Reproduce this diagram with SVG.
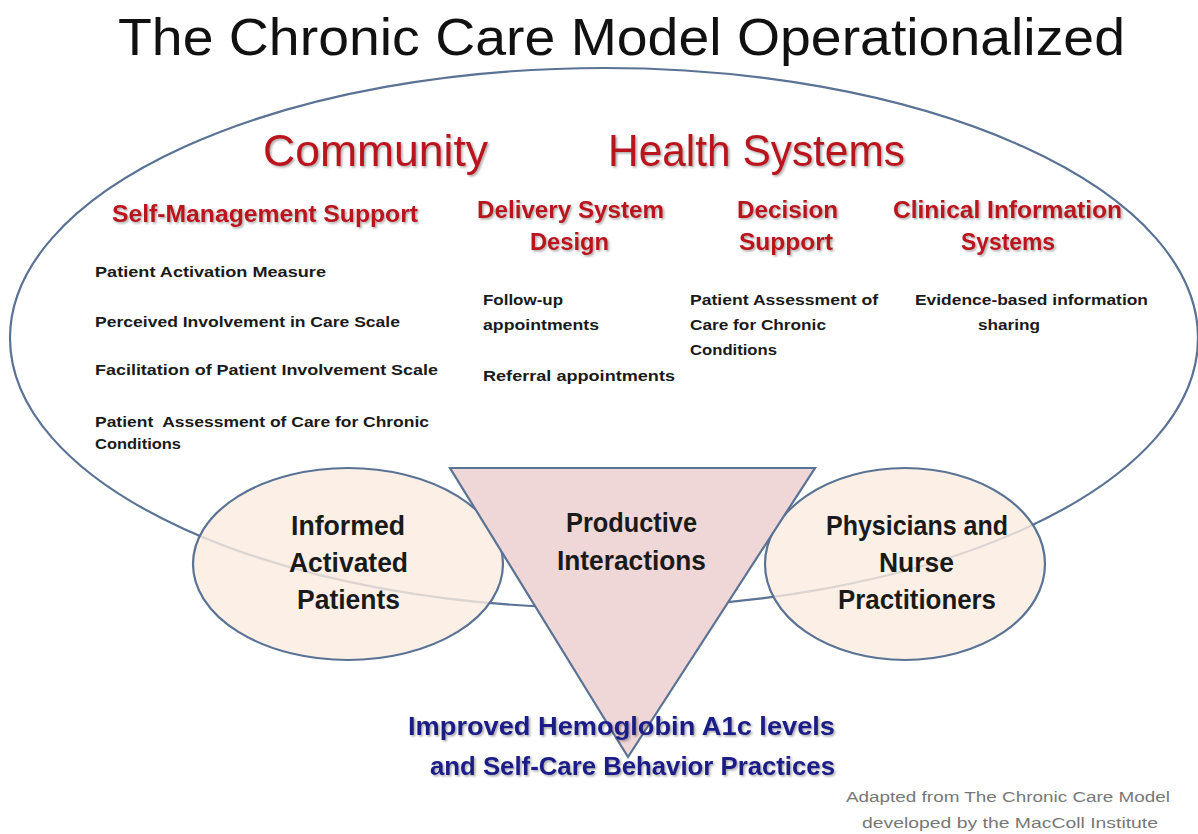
<svg xmlns="http://www.w3.org/2000/svg" width="1198" height="834" viewBox="0 0 1198 834">
<defs>
<filter id="sh" x="-5%" y="-20%" width="110%" height="140%">
<feDropShadow dx="1.5" dy="1.5" stdDeviation="1" flood-color="#000" flood-opacity="0.35"/>
</filter>
<style>
text{font-family:"Liberation Sans",Arial,sans-serif}
.title{font-size:52px;fill:#111}
.big{font-size:44px;fill:#b8151f;filter:url(#sh)}
.sub{font-size:23px;font-weight:bold;fill:#b8151f;filter:url(#sh)}
.sm{font-size:15px;font-weight:bold;fill:#1a1a1a}
.node{font-size:27px;font-weight:bold;fill:#1a1a1a}
.out{font-size:26px;font-weight:bold;fill:#1c1c86;filter:url(#sh)}
.cr{font-size:14px;fill:#777}
.line{stroke:#5a7294;stroke-width:2.2}
</style>
</defs>
<rect width="1198" height="834" fill="#fff"/>
<text class="title" x="118" y="55" textLength="1007" lengthAdjust="spacingAndGlyphs">The Chronic Care Model Operationalized</text>
<g id="community-ellipse">
<ellipse cx="604" cy="338" rx="594" ry="270" fill="#fff" class="line"/>
</g>
<g id="patients">
<ellipse cx="348" cy="564" rx="155" ry="96" fill="#fbece0" fill-opacity="0.8" class="line"/>
<text class="node" x="291" y="535" textLength="114" lengthAdjust="spacingAndGlyphs">Informed</text>
<text class="node" x="289" y="572" textLength="119" lengthAdjust="spacingAndGlyphs">Activated</text>
<text class="node" x="297" y="609" textLength="103" lengthAdjust="spacingAndGlyphs">Patients</text>
</g>
<g id="providers">
<ellipse cx="905" cy="564" rx="140" ry="96" fill="#fbece0" fill-opacity="0.8" class="line"/>
<text class="node" x="826" y="535" textLength="182" lengthAdjust="spacingAndGlyphs">Physicians and</text>
<text class="node" x="879" y="572" textLength="75" lengthAdjust="spacingAndGlyphs">Nurse</text>
<text class="node" x="838" y="609" textLength="158" lengthAdjust="spacingAndGlyphs">Practitioners</text>
</g>
<g id="interactions">
<polygon points="450,468 815,468 628,757" fill="#efd6d7" class="line" stroke-linejoin="miter"/>
<text class="node" x="566" y="532" textLength="131" lengthAdjust="spacingAndGlyphs">Productive</text>
<text class="node" x="557" y="570" textLength="149" lengthAdjust="spacingAndGlyphs">Interactions</text>
</g>
<g id="headings">
<text class="big" x="263" y="166" textLength="225" lengthAdjust="spacingAndGlyphs">Community</text>
<text class="big" x="608" y="166" textLength="297" lengthAdjust="spacingAndGlyphs">Health Systems</text>
</g>
<g id="self-management">
<text class="sub" x="112" y="222" textLength="306" lengthAdjust="spacingAndGlyphs">Self-Management Support</text>
<text class="sm" x="95" y="277" textLength="231" lengthAdjust="spacingAndGlyphs">Patient Activation Measure</text>
<text class="sm" x="95" y="327" textLength="305" lengthAdjust="spacingAndGlyphs">Perceived Involvement in Care Scale</text>
<text class="sm" x="95" y="375" textLength="343" lengthAdjust="spacingAndGlyphs">Facilitation of Patient Involvement Scale</text>
<text class="sm" x="95" y="427" textLength="334" lengthAdjust="spacingAndGlyphs" xml:space="preserve">Patient  Assessment of Care for Chronic</text>
<text class="sm" x="95" y="449" textLength="86" lengthAdjust="spacingAndGlyphs">Conditions</text>
</g>
<g id="delivery">
<text class="sub" x="477" y="218" textLength="187" lengthAdjust="spacingAndGlyphs">Delivery System</text>
<text class="sub" x="530" y="250" textLength="79" lengthAdjust="spacingAndGlyphs">Design</text>
<text class="sm" x="483" y="305" textLength="80" lengthAdjust="spacingAndGlyphs">Follow-up</text>
<text class="sm" x="483" y="330" textLength="116" lengthAdjust="spacingAndGlyphs">appointments</text>
<text class="sm" x="483" y="381" textLength="192" lengthAdjust="spacingAndGlyphs">Referral appointments</text>
</g>
<g id="decision">
<text class="sub" x="737" y="218" textLength="101" lengthAdjust="spacingAndGlyphs">Decision</text>
<text class="sub" x="739" y="250" textLength="94" lengthAdjust="spacingAndGlyphs">Support</text>
<text class="sm" x="690" y="305" textLength="188" lengthAdjust="spacingAndGlyphs">Patient Assessment of</text>
<text class="sm" x="690" y="330" textLength="136" lengthAdjust="spacingAndGlyphs">Care for Chronic</text>
<text class="sm" x="690" y="355" textLength="87" lengthAdjust="spacingAndGlyphs">Conditions</text>
</g>
<g id="clinical">
<text class="sub" x="893" y="218" textLength="229" lengthAdjust="spacingAndGlyphs">Clinical Information</text>
<text class="sub" x="961" y="250" textLength="94" lengthAdjust="spacingAndGlyphs">Systems</text>
<text class="sm" x="915" y="305" textLength="233" lengthAdjust="spacingAndGlyphs">Evidence-based information</text>
<text class="sm" x="978" y="330" textLength="62" lengthAdjust="spacingAndGlyphs">sharing</text>
</g>
<g id="outcome">
<text class="out" x="408" y="735" textLength="427" lengthAdjust="spacingAndGlyphs">Improved Hemoglobin A1c levels</text>
<text class="out" x="430" y="775" textLength="405" lengthAdjust="spacingAndGlyphs">and Self-Care Behavior Practices</text>
</g>
<g id="credit">
<text class="cr" x="846" y="802" textLength="324" lengthAdjust="spacingAndGlyphs">Adapted from The Chronic Care Model</text>
<text class="cr" x="862" y="828" textLength="296" lengthAdjust="spacingAndGlyphs">developed by the MacColl Institute</text>
</g>
<g id="connectors"></g>
</svg>
